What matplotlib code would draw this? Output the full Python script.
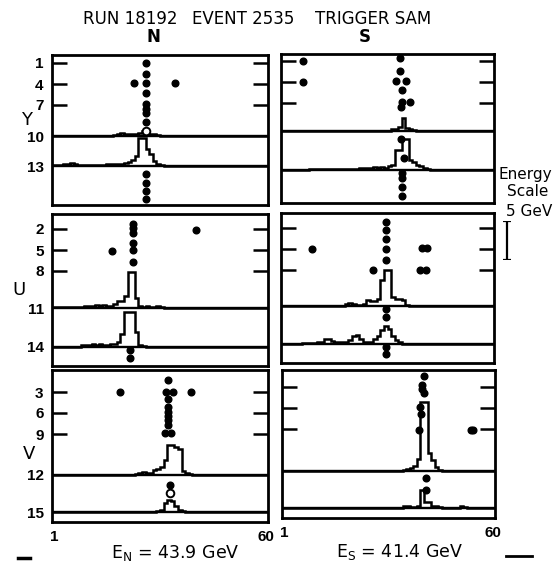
import numpy as np
import matplotlib
matplotlib.use('Agg')
import matplotlib.pyplot as plt
from matplotlib.lines import Line2D

W, H = 557, 563
plt.rcParams['font.family'] = ['DejaVu Sans']

# ---- data: hit dots (channel, layer) ----
YN_DOT_CH = [26.6, 26.6, 26.6, 26.6, 26.6, 26.6, 26.6, 26.6, 23.3, 34.7, 26.6, 26.6, 26.6, 26.6]
YN_DOT_LAYER = [1.0, 2.6, 3.9, 5.3, 6.8, 7.5, 8.2, 9.4, 3.9, 3.9, 16.9, 18.1, 19.3, 20.4]
YN_OPEN_CH = [26.6]
YN_OPEN_LAYER = [10.7]

YS_DOT_CH = [34.1, 34.1, 32.9, 35.7, 34.5, 34.6, 36.8, 34.3, 6.7, 6.7, 34.4, 35.1, 34.5, 34.5, 34.5, 34.5]
YS_DOT_LAYER = [0.6, 2.4, 3.8, 3.8, 5.2, 6.8, 6.8, 7.6, 1.0, 4.0, 12.1, 14.9, 17.0, 17.7, 19.0, 20.3]

UN_DOT_CH = [23.1, 23.1, 23.1, 23.1, 23.1, 23.1, 17.1, 40.5, 22.2, 22.2]
UN_DOT_LAYER = [1.3, 1.9, 2.6, 4.0, 5.0, 6.7, 5.2, 2.1, 19.3, 20.4]

US_DOT_CH = [30.1, 30.1, 30.1, 30.1, 30.1, 9.1, 40.2, 41.5, 26.3, 39.6, 41.3, 30.1, 30.1, 30.1, 30.1]
US_DOT_LAYER = [1.1, 2.3, 3.6, 5.0, 6.6, 5.0, 4.8, 4.8, 8.0, 8.0, 8.0, 13.6, 14.7, 19.0, 20.0]

VN_DOT_CH = [32.8, 32.2, 34.0, 32.8, 32.8, 32.8, 32.8, 32.8, 32.8, 32.0, 33.5, 19.4, 39.0, 33.2]
VN_DOT_LAYER = [1.3, 3.0, 3.0, 4.0, 5.1, 5.8, 6.4, 7.0, 7.7, 8.9, 8.9, 3.0, 3.0, 16.3]
VN_OPEN_CH = [33.2]
VN_OPEN_LAYER = [17.4]

VS_DOT_CH = [40.4, 40.0, 40.0, 40.4, 39.4, 39.6, 39.0, 53.8, 54.4, 41.0, 41.0]
VS_DOT_LAYER = [1.4, 2.7, 3.3, 3.9, 5.8, 6.8, 9.2, 9.2, 9.2, 16.0, 17.7]

# ---- data: energy per channel 1..60 (GeV) ----
YN_UP = [0, 0, 0, 0, 0, 0, 0, 0, 0, 0,
         0, 0, 0, 0, 0, 0, 0, 0.1, 0.3, 0.4,
         0.3, 0.2, 0.3, 0.2, 0.4, 0.6, 0.4, 0.2, 0.2, 0.1,
         0, 0, 0, 0, 0, 0, 0, 0, 0, 0,
         0, 0, 0, 0, 0, 0, 0, 0, 0, 0,
         0, 0, 0, 0, 0, 0, 0, 0, 0, 0]
YN_LO = [0.1, 0.1, 0.1, 0.2, 0.3, 0.4, 0.3, 0.1, 0.1, 0.1,
         0.1, 0.1, 0.1, 0.1, 0.1, 0.2, 0.2, 0.3, 0.3, 0.2,
         0.4, 0.5, 0.8, 1.3, 3.6, 3.6, 2.2, 1.5, 0.6, 0.3,
         0.1, 0, 0, 0, 0, 0, 0, 0, 0, 0,
         0, 0, 0, 0, 0, 0, 0, 0, 0, 0,
         0, 0, 0, 0, 0, 0, 0, 0, 0, 0]
YS_UP = [0, 0, 0, 0, 0, 0, 0, 0, 0, 0,
         0, 0, 0, 0, 0, 0, 0, 0, 0, 0,
         0, 0, 0, 0, 0, 0, 0, 0, 0, 0,
         0, 0.2, 0.3, 0.5, 1.7, 0.4, 0.2, 0.1, 0, 0,
         0, 0, 0, 0, 0, 0, 0, 0, 0, 0,
         0, 0, 0, 0, 0, 0, 0, 0, 0, 0]
YS_LO = [0, 0, 0, 0, 0, 0, 0, 0, 0.1, 0.1,
         0.1, 0.1, 0.1, 0.1, 0.1, 0.1, 0.1, 0.1, 0.1, 0.1,
         0.1, 0.1, 0.2, 0.3, 0.2, 0.3, 0.4, 0.3, 0.4, 0.3,
         0.5, 0.6, 2.6, 2.6, 4.0, 4.0, 1.3, 1.0, 0.7, 0.5,
         0.3, 0.1, 0, 0, 0, 0, 0, 0, 0, 0,
         0, 0, 0, 0, 0, 0, 0, 0, 0, 0]
UN_UP = [0.1, 0.1, 0.1, 0.1, 0.1, 0.1, 0.1, 0.1, 0.1, 0.2,
         0.2, 0.3, 0.4, 0.3, 0.4, 0.3, 0.3, 0.5, 0.9, 0.9,
         1.6, 4.7, 4.7, 1.3, 0.2, 0.1, 0.2, 0.1, 0.1, 0.2,
         0.1, 0, 0, 0, 0, 0, 0, 0, 0, 0,
         0, 0, 0, 0, 0, 0, 0, 0, 0, 0,
         0, 0, 0, 0, 0, 0, 0, 0, 0, 0]
UN_LO = [0, 0, 0, 0, 0, 0, 0, 0, 0.2, 0.3,
         0.2, 0.4, 0.3, 0.4, 0.2, 0.3, 0.4, 0.4, 0.7, 1.7,
         4.6, 4.6, 4.6, 2.0, 0.2, 0.1, 0, 0, 0, 0,
         0, 0, 0, 0, 0, 0, 0, 0, 0, 0,
         0, 0, 0, 0, 0, 0, 0, 0, 0, 0,
         0, 0, 0, 0, 0, 0, 0, 0, 0, 0]
US_UP = [0, 0, 0, 0, 0, 0, 0, 0, 0, 0,
         0, 0, 0, 0, 0, 0, 0, 0, 0.2, 0.35,
         0.2, 0.1, 0.1, 0.3, 0.8, 0.6, 0.6, 0.9, 3.4, 4.7,
         4.7, 1.2, 0.9, 0.9, 0.8, 0.1, 0, 0, 0, 0,
         0, 0, 0, 0, 0, 0, 0, 0, 0, 0,
         0, 0, 0, 0, 0, 0, 0, 0, 0, 0]
US_LO = [0, 0, 0, 0, 0, 0, 0.1, 0.1, 0.1, 0.1,
         0.2, 0.3, 0.6, 0.7, 0.4, 0.2, 0.2, 0.3, 0.3, 0.5,
         1.0, 1.2, 0.6, 0.2, 0.2, 0.3, 0.6, 1.0, 1.8, 2.4,
         2.0, 1.0, 0.5, 0.2, 0, 0, 0, 0, 0, 0,
         0, 0, 0, 0, 0, 0, 0, 0, 0, 0,
         0, 0, 0, 0, 0, 0, 0, 0, 0, 0]
VN_UP = [0, 0, 0, 0, 0, 0, 0, 0, 0, 0,
         0, 0, 0, 0, 0, 0, 0, 0, 0, 0,
         0, 0, 0, 0.1, 0.3, 0.35, 0.2, 0.3, 0.6, 0.8,
         1.0, 1.9, 3.9, 3.9, 3.7, 3.4, 0.5, 0.2, 0.1, 0,
         0, 0, 0, 0, 0, 0, 0, 0, 0, 0,
         0, 0, 0, 0, 0, 0, 0, 0, 0, 0]
VN_LO = [0, 0, 0, 0, 0, 0, 0, 0, 0, 0,
         0, 0, 0, 0, 0, 0, 0, 0, 0, 0,
         0, 0, 0, 0, 0, 0, 0, 0, 0, 0.1,
         0.3, 1.2, 1.5, 1.4, 0.8, 0.3, 0.1, 0, 0, 0,
         0, 0, 0, 0, 0, 0, 0, 0, 0, 0,
         0, 0, 0, 0, 0, 0, 0, 0, 0, 0]
VS_UP = [0, 0, 0, 0, 0, 0, 0, 0, 0, 0,
         0, 0, 0, 0, 0, 0, 0, 0, 0, 0,
         0, 0, 0, 0, 0, 0, 0, 0, 0, 0,
         0, 0, 0, 0, 0.1, 0.2, 0.35, 0.6, 1.5, 8.9,
         8.9, 2.3, 1.4, 0.5, 0.1, 0, 0, 0, 0, 0,
         0, 0, 0, 0, 0, 0, 0, 0, 0, 0]
VS_LO = [0, 0, 0, 0, 0, 0, 0, 0, 0, 0,
         0, 0, 0, 0, 0, 0, 0, 0, 0, 0,
         0, 0, 0, 0, 0, 0, 0, 0, 0, 0,
         0, 0, 0, 0, 0.2, 0.2, 0.1, 0.1, 0.2, 2.4,
         0.75, 0.75, 0.3, 0.3, 0.1, 0, 0, 0, 0, 0,
         0.2, 0.1, 0, 0, 0, 0, 0, 0, 0, 0]

FIRST_LAYER = {'Y': 1, 'U': 2, 'V': 3}
BASE_LABELS = {'Y': ['10', '13'], 'U': ['11', '14'], 'V': ['12', '15']}
SCALE_GEV = 5
E_NORTH = 43.9
E_SOUTH = 41.4

# ---- layout (pixels of the 557x563 picture) ----
PX_PER_LAYER = 7.0
PX_PER_GEV = 7.7
GEV_TO_LAYER = PX_PER_GEV / PX_PER_LAYER

# view, left col?, x0, x1, top, bottom, px of first tick, baselines px, data
PANELS = [
    ('Y', True, 52, 268, 55, 205, 63, [136, 166],
     (YN_DOT_CH, YN_DOT_LAYER), (YN_OPEN_CH, YN_OPEN_LAYER), [YN_UP, YN_LO]),
    ('U', True, 52, 268, 214, 366, 229, [308, 347],
     (UN_DOT_CH, UN_DOT_LAYER), None, [UN_UP, UN_LO]),
    ('V', True, 52, 268, 370, 522, 392, [475, 512],
     (VN_DOT_CH, VN_DOT_LAYER), (VN_OPEN_CH, VN_OPEN_LAYER), [VN_UP, VN_LO]),
    ('Y', False, 281, 494, 54, 203, 61, [131, 170],
     (YS_DOT_CH, YS_DOT_LAYER), None, [YS_UP, YS_LO]),
    ('U', False, 281, 494, 213, 363, 228, [306, 344],
     (US_DOT_CH, US_DOT_LAYER), None, [US_UP, US_LO]),
    ('V', False, 282, 495, 370, 518, 387, [471, 508],
     (VS_DOT_CH, VS_DOT_LAYER), None, [VS_UP, VS_LO]),
]

VIEW_LABEL_POS = {'Y': (27, 120), 'U': (19, 290), 'V': (29, 454)}


def fig_box(x0, x1, y0, y1):
    return [x0 / W, 1 - y1 / H, (x1 - x0) / W, (y1 - y0) / H]


def fx(px):
    return px / W


def fy(py):
    return 1 - py / H


fig = plt.figure(figsize=(W / 100, H / 100), dpi=100)
edges = np.arange(0.5, 61.5)
num_font = dict(fontfamily='Liberation Sans', fontweight='bold', fontsize=11)

for view, left, x0, x1, top, bottom, tick_px, base_px, dots, opens, hists in PANELS:
    ax = fig.add_axes(fig_box(x0, x1, top, bottom))
    l0 = FIRST_LAYER[view]

    def to_layer(p):
        return l0 + (p - tick_px) / PX_PER_LAYER

    ax.set_xlim(0.5, 60.5)
    ax.set_ylim(to_layer(bottom), to_layer(top))

    base_layers = [to_layer(b) for b in base_px]
    for b, e in zip(base_layers, hists):
        ax.axhline(b, color='k', lw=1.7)
        ax.stairs(b - np.array(e) * GEV_TO_LAYER, edges, baseline=b,
                  color='k', lw=1.8)

    ax.plot(dots[0], dots[1], 'o', color='k', ms=4.8, ls='none')
    if opens:
        ax.plot(opens[0], opens[1], 'o', mfc='white', mec='k', mew=1.4,
                ms=5.5, ls='none')

    ticks = [l0, l0 + 3, l0 + 6]
    ax.set_yticks(ticks)
    ax.set_yticks(base_layers, minor=True)
    if left:
        ax.set_yticklabels([str(t) for t in ticks], **num_font)
        ax.set_yticklabels(BASE_LABELS[view], minor=True, **num_font)
    else:
        ax.set_yticklabels([])
        ax.set_yticklabels([], minor=True)
    ax.tick_params(axis='y', which='major', direction='in', length=11,
                   width=1.8, left=True, right=True, pad=6)
    ax.tick_params(axis='y', which='minor', length=0, pad=6)

    if view == 'V':
        ax.set_xticks([1, 60])
        ax.set_xticklabels(['1', '60'], **num_font)
        ax.tick_params(axis='x', length=0, pad=6)
    else:
        ax.set_xticks([])

    for sp in ax.spines.values():
        sp.set_linewidth(2)

    if left:
        lx, ly = VIEW_LABEL_POS[view]
        fig.text(fx(lx), fy(ly), view, fontsize=13, ha='center', va='center')

# titles
fig.text(fx(130), fy(19), 'RUN 18192', fontsize=12, ha='center', va='center')
fig.text(fx(243), fy(19), 'EVENT 2535', fontsize=12, ha='center', va='center')
fig.text(fx(373), fy(19), 'TRIGGER SAM', fontsize=12, ha='center', va='center')
fig.text(fx(153), fy(37), 'N', fontsize=12, fontweight='bold', ha='center', va='center')
fig.text(fx(365), fy(37), 'S', fontsize=12, fontweight='bold', ha='center', va='center')

# energy scale
fig.text(fx(525), fy(174), 'Energy', fontsize=11, ha='center', va='center')
fig.text(fx(528), fy(191), 'Scale', fontsize=11, ha='center', va='center')
fig.text(fx(529), fy(212), f'{SCALE_GEV} GeV', fontsize=11, ha='center', va='center')
sax = fig.add_axes(fig_box(497, 517, 221, 221 + SCALE_GEV * PX_PER_GEV))
sax.set_xlim(0, 1)
sax.set_ylim(0, SCALE_GEV)
sax.axis('off')
sax.vlines(0.5, 0, SCALE_GEV, color='k', lw=1.6)
sax.hlines([0, SCALE_GEV], 0.3, 0.7, color='k', lw=1.6)

# total energies
fig.text(fx(175), fy(553), r'E$_\mathregular{N}$ = ' + f'{E_NORTH} GeV',
         fontsize=12.5, ha='center', va='center')
fig.text(fx(400), fy(552), r'E$_\mathregular{S}$ = ' + f'{E_SOUTH} GeV',
         fontsize=12.5, ha='center', va='center')

# scanner marks in the corners
fig.add_artist(Line2D([fx(18), fx(30)], [fy(558), fy(558)], color='k', lw=2.5))
fig.add_artist(Line2D([fx(506), fx(532)], [fy(556), fy(556)], color='k', lw=2))

fig.savefig('out.png', dpi=100)
